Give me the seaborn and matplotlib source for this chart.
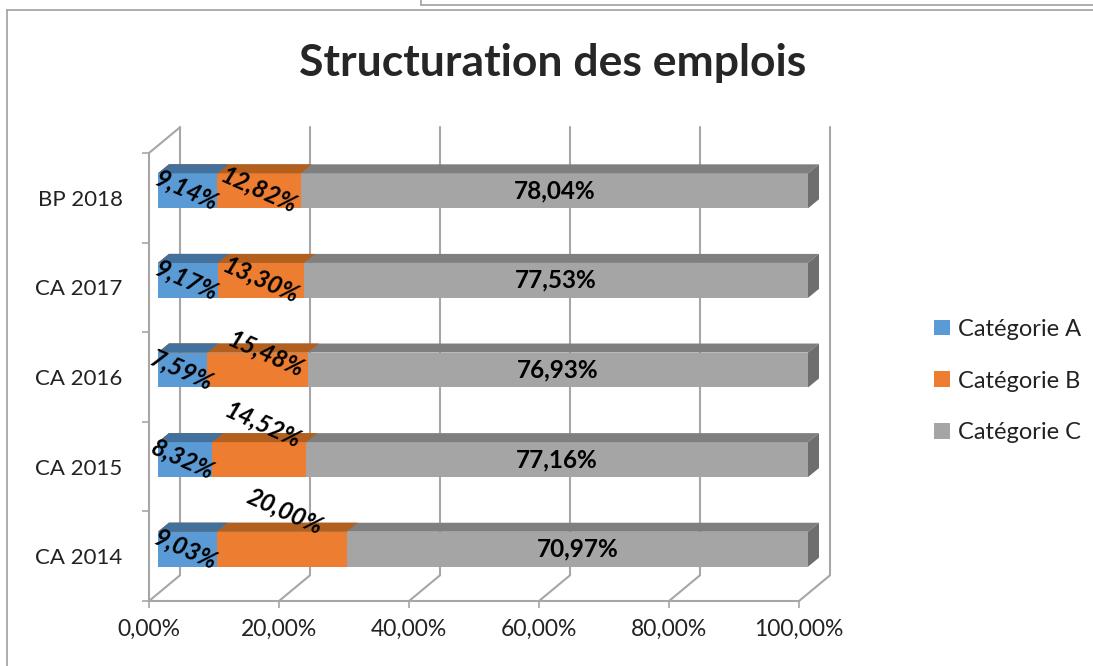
import numpy as np
import pandas as pd
import seaborn as sns
import matplotlib.pyplot as plt
from matplotlib.patches import Polygon, Patch
from matplotlib.transforms import ScaledTranslation

# values (percent of jobs)
years = ["BP 2018", "CA 2017", "CA 2016", "CA 2015", "CA 2014"]
cat_a = [9.14, 9.17, 7.59, 8.32, 9.03]
cat_b = [12.82, 13.30, 15.48, 14.52, 20.00]
cat_c = [78.04, 77.53, 76.93, 77.16, 70.97]
series = ["Catégorie A", "Catégorie B", "Catégorie C"]
x_ticks = [0, 20, 40, 60, 80, 100]

front_colors = ["#5B9BD5", "#ED7D31", "#A5A5A5"]
top_colors = ["#41719C", "#B3601F", "#7F7F7F"]
side_color = "#6E6E6E"
grid_color = "#A6A6A6"


def fmt(v):
    return f"{v:.2f}".replace(".", ",") + "%"


W, H = 1093, 666
sns.set_theme(style="white")
plt.rcParams["font.family"] = ["Lato", "DejaVu Sans"]

fig = plt.figure(figsize=(W / 100, H / 100), dpi=100)
ax = fig.add_axes([149 / W, (H - 601) / H, 650 / W, 448 / H])
ax.patch.set_visible(False)

df = pd.DataFrame({"year": years, "A": cat_a, "B": cat_b, "C": cat_c})
cum = df[["A", "B", "C"]].cumsum(axis=1)
cum["year"] = years

# pixels per data unit, to fake the 3D depth
bb = ax.get_window_extent()
px_x = bb.width / 100
px_y = bb.height / len(years)


def shifted(dx, dy):
    # data transform moved by dx, dy screen pixels (dy up)
    return ax.transData + ScaledTranslation(dx / fig.dpi, dy / fig.dpi, fig.dpi_scale_trans)


ymin, ymax = -0.5, len(years) - 0.5

# walls / floor
back_x, back_y = 31 / px_x, 25.7 / px_y
line_kw = dict(color=grid_color, lw=1.5, clip_on=False, zorder=0)
for t in x_ticks:
    ax.plot([t + back_x] * 2, [ymax - back_y, ymin - back_y], **line_kw)
    ax.plot([t, t + back_x], [ymax, ymax - back_y], **line_kw)
ax.plot([0, back_x], [ymin, ymin - back_y], **line_kw)
ax.plot([0, 0], [ymin, ymax], **line_kw)
ax.plot([0, 100], [ymax, ymax], **line_kw)

# stacked bars, drawn as overlapping cumulative bars
bar_shift = shifted(9, 7)
dep_x, dep_y = 11 / px_x, 9 / px_y
cols = ["A", "B", "C"]
for col, fc, tc in reversed(list(zip(cols, front_colors, top_colors))):
    n0 = len(ax.patches)
    sns.barplot(data=cum, x=col, y="year", color=fc, saturation=1, width=0.39,
                linewidth=0, errorbar=None, ax=ax)
    for rect in list(ax.patches[n0:]):
        rect.set_transform(bar_shift)
        rect.set_clip_on(False)
        x0, y0 = rect.get_x(), rect.get_y()
        w, h = rect.get_width(), rect.get_height()
        ax.add_patch(Polygon([(x0, y0), (x0 + w, y0), (x0 + w + dep_x, y0 - dep_y),
                              (x0 + dep_x, y0 - dep_y)], closed=True, facecolor=tc,
                             edgecolor="none", transform=bar_shift, clip_on=False))
        if col == "C":
            ax.add_patch(Polygon([(x0 + w, y0), (x0 + w + dep_x, y0 - dep_y),
                                  (x0 + w + dep_x, y0 + h - dep_y), (x0 + w, y0 + h)],
                                 closed=True, facecolor=side_color, edgecolor="none",
                                 transform=bar_shift, clip_on=False))

# value labels (orange ones were dragged up in the original)
b_dx = [0, 0, 8, 4, 3]
b_dy = [0, 0, 16, 34, 38]
lab_kw = dict(ha="center", va="center", fontsize=17.5, fontweight="bold", color="black")
for i in range(len(years)):
    a, b, c = cat_a[i], cat_b[i], cat_c[i]
    ax.text(a / 2, i, fmt(a), rotation=-24, style="italic",
            transform=shifted(7, 7), **lab_kw)
    ax.text(a + b / 2, i, fmt(b), rotation=-24, style="italic",
            transform=shifted(9 + b_dx[i], 7 + b_dy[i]), **lab_kw)
    ax.text(a + b + c / 2, i, fmt(c), transform=shifted(9, 7), **lab_kw)

ax.set_xlim(0, 100)
ax.set_ylim(ymax, ymin)
for s in ax.spines.values():
    s.set_visible(False)
ax.set_xticks(x_ticks)
ax.set_xticklabels([fmt(t) for t in x_ticks])
ax.set_yticks(range(len(years)))
ax.set_yticklabels(years)
ax.set_yticks(np.arange(len(years) + 1) - 0.5, minor=True)
ax.set_xlabel("")
ax.set_ylabel("")
ax.tick_params(axis="x", bottom=True, length=5, width=1.2, color=grid_color,
               labelsize=16.5, pad=8, labelcolor="#222222")
ax.tick_params(axis="y", which="major", left=True, length=0, labelsize=16, pad=19,
               labelcolor="#222222")
ax.tick_params(axis="y", which="minor", left=True, length=5, width=1.2, color=grid_color)

handles = [Patch(facecolor=c, edgecolor="none") for c in front_colors]
fig.legend(handles, series, loc="center left", bbox_to_anchor=(913 / W, 1 - 381 / H),
           frameon=False, fontsize=17, handlelength=0.65, handleheight=0.65,
           handletextpad=0.35, labelspacing=1.3, labelcolor="#222222")

fig.text(553 / W, 1 - 63 / H, "Structuration des emplois", ha="center", va="center",
         fontsize=32, fontweight="bold")

# chart frame edges visible in the screenshot
frame_kw = dict(color="#A0A0A0", lw=1.2, transform=fig.transFigure)
fig.add_artist(plt.Line2D([7 / W, 1], [1 - 10 / H] * 2, **frame_kw))
fig.add_artist(plt.Line2D([7 / W] * 2, [1 - 10 / H, 0], **frame_kw))
fig.add_artist(plt.Line2D([421 / W, 1], [1 - 5 / H] * 2, **frame_kw))
fig.add_artist(plt.Line2D([421 / W] * 2, [1, 1 - 5 / H], **frame_kw))

fig.savefig("out.png", dpi=100)
